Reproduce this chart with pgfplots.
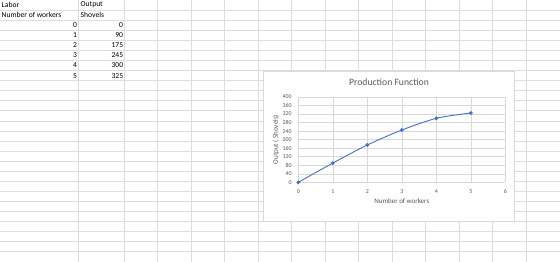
\documentclass[border=0pt]{standalone}
\usepackage{fontspec}
\setmainfont{Carlito}
\usepackage{pgfplots}
\pgfplotsset{compat=1.18}
\definecolor{cellgrid}{HTML}{DDDDDD}
\definecolor{chartborder}{HTML}{D9D9D9}
\definecolor{gridc}{HTML}{D9D9D9}
\definecolor{txt}{HTML}{595959}
\definecolor{series}{HTML}{4472C4}
\begin{document}
\begin{tikzpicture}[x=1pt,y=1pt]
\path[use as bounding box,fill=white] (0,0) rectangle (560,262);
% spreadsheet grid
\foreach \k in {1,...,26} \draw[cellgrid,line width=0.6pt] (0,{262-10.07*\k}) -- (560,{262-10.07*\k});
\foreach \xx in {78.6,124,157.5,191,224.5,258,291.5,325,358.5,392,425.5,459,492.5,526}
  \draw[cellgrid,line width=0.6pt] (\xx,0) -- (\xx,262);
% cell contents
\begin{scope}[every node/.style={font=\fontsize{7.6}{8}\selectfont,inner sep=0pt,text=black}]
\node[anchor=west] at (1.5,256.9) {Labor};
\node[anchor=west] at (1.5,246.9) {Number of workers};
\node[anchor=west] at (80.5,256.9) {Output};
\node[anchor=west] at (80.5,246.9) {Shovels};
\foreach \a/\b/\yy in {0/0/236.8,1/90/226.7,2/175/216.7,3/245/206.6,4/300/196.5,5/325/186.4}{
  \node[anchor=east] at (77.3,\yy) {\a};
  \node[anchor=east] at (123.3,\yy) {\b};
}
\end{scope}
% chart box
\draw[chartborder,fill=white,line width=0.6pt] (263.5,40.3) rectangle (514.3,190.5);
\node[text=txt,font=\fontsize{9.7}{11}\selectfont,inner sep=0pt] at (389,179.7) {Production Function};
\begin{axis}[
  at={(298.3pt,79.7pt)}, anchor=south west,
  scale only axis, width=207pt, height=85.3pt,
  xmin=0, xmax=6, ymin=0, ymax=400,
  xtick={0,1,2,3,4,5,6},
  ytick={0,40,80,120,160,200,240,280,320,360,400},
  grid=major,
  major grid style={gridc,line width=0.5pt},
  axis line style={draw=none},
  major tick length=0pt,
  tick label style={text=txt,font=\fontsize{5.9}{6}\selectfont,inner sep=0pt},
  /pgf/number format/assume math mode=true,
  yticklabel style={anchor=east,xshift=-6.5pt},
  xticklabel style={anchor=center,yshift=-9.7pt},
  xlabel={Number of workers},
  ylabel={Output ( Shovels)},
  label style={text=txt,font=\fontsize{7}{8}\selectfont,inner sep=0pt},
  xlabel style={at={(axis description cs:0.5,-0.219)},anchor=center},
  ylabel style={at={(axis description cs:-0.108,0.5)},anchor=center,rotate=0},
  clip=false,
]
\addplot[series,line width=0.9pt,smooth,tension=0.5,mark=*,mark size=1.4pt,mark options={fill=series,draw=series}]
 coordinates {(0,0) (1,90) (2,175) (3,245) (4,300) (5,325)};
\end{axis}
\end{tikzpicture}
\end{document}
